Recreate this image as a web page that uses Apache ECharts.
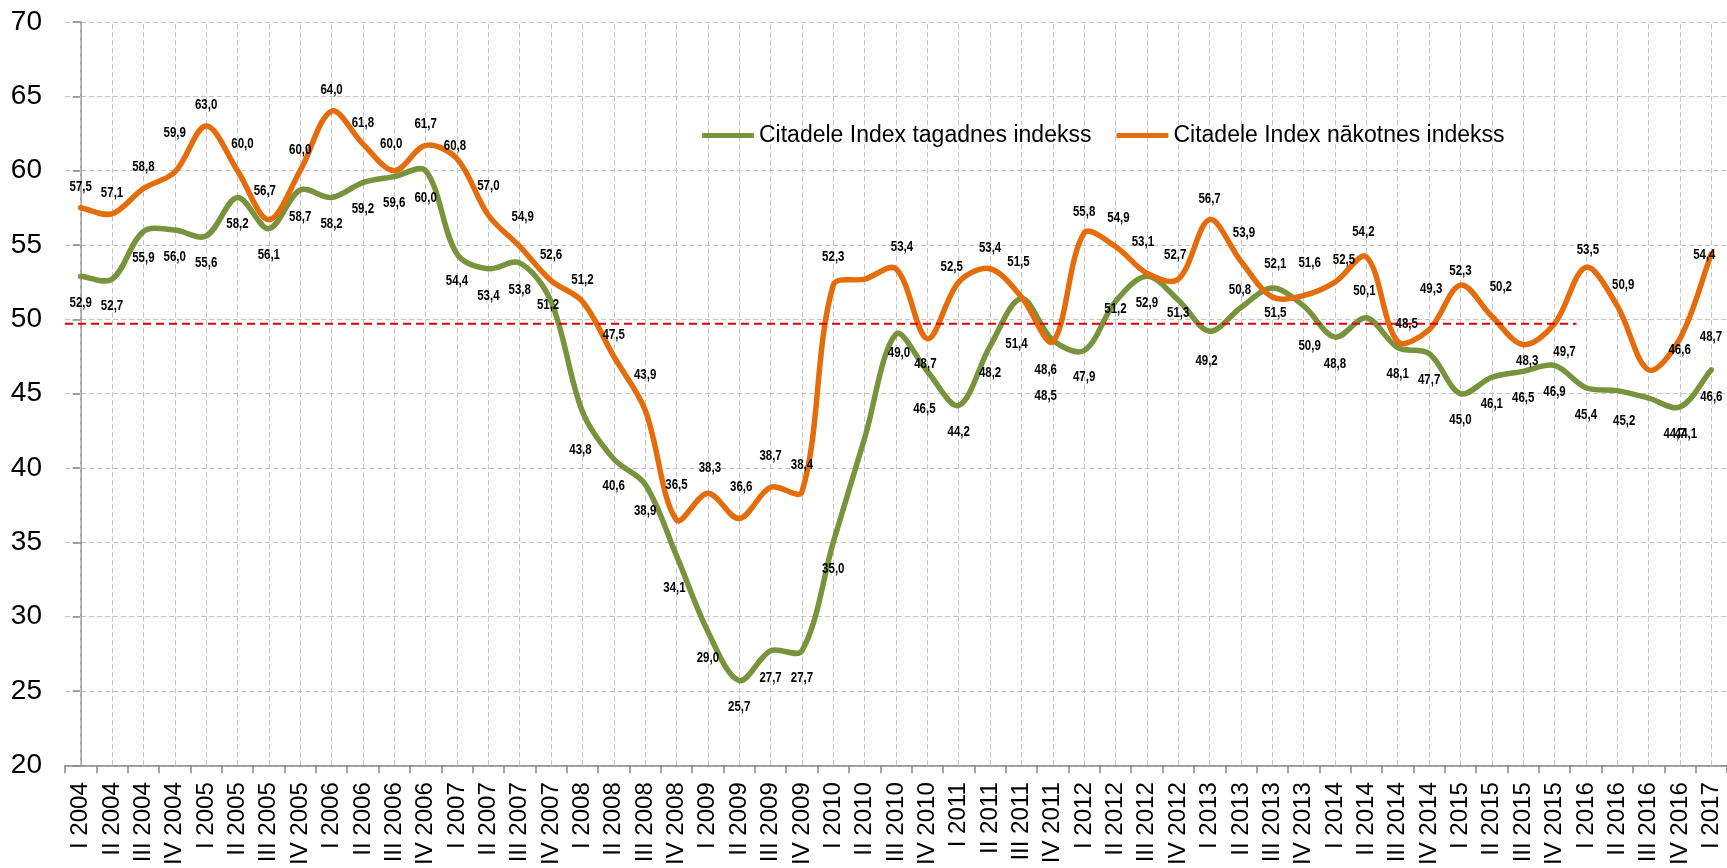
<!DOCTYPE html>
<html>
<head>
<meta charset="utf-8">
<script src="https://cdn.jsdelivr.net/npm/echarts@6/dist/echarts.min.js"></script>
<style>
html,body{margin:0;padding:0;background:#ffffff;}
#chart{width:1727px;height:868px;}
</style>
</head>
<body>
<div id="chart"></div>
<script>
const categories = [
  'I 2004','II 2004','III 2004','IV 2004',
  'I 2005','II 2005','III 2005','IV 2005',
  'I 2006','II 2006','III 2006','IV 2006',
  'I 2007','II 2007','III 2007','IV 2007',
  'I 2008','II 2008','III 2008','IV 2008',
  'I 2009','II 2009','III 2009','IV 2009',
  'I 2010','II 2010','III 2010','IV 2010',
  'I 2011','II 2011','III 2011','IV 2011',
  'I 2012','II 2012','III 2012','IV 2012',
  'I 2013','II 2013','III 2013','IV 2013',
  'I 2014','II 2014','III 2014','IV 2014',
  'I 2015','II 2015','III 2015','IV 2015',
  'I 2016','II 2016','III 2016','IV 2016',
  'I 2017'
];

// Citadele Index tagadnes indekss (current)
const currentIndex = [
  52.9, 52.7, 55.9, 56.0, 55.6, 58.2, 56.1, 58.7, 58.2, 59.2, 59.6, 60.0,
  54.4, 53.4, 53.8, 51.2, 43.8, 40.6, 38.9, 34.1, 29.0, 25.7, 27.7, 27.7,
  35.0, 42.0, 49.0, 46.5, 44.2, 48.2, 51.4, 48.6, 47.9, 51.2, 52.9, 51.3,
  49.2, 50.8, 52.1, 50.9, 48.8, 50.1, 48.1, 47.7, 45.0, 46.1, 46.5, 46.9,
  45.4, 45.2, 44.7, 44.1, 46.6
];

// Citadele Index nākotnes indekss (future)
const futureIndex = [
  57.5, 57.1, 58.8, 59.9, 63.0, 60.0, 56.7, 60.0, 64.0, 61.8, 60.0, 61.7,
  60.8, 57.0, 54.9, 52.6, 51.2, 47.5, 43.9, 36.5, 38.3, 36.6, 38.7, 38.4,
  52.3, 52.7, 53.4, 48.7, 52.5, 53.4, 51.5, 48.5, 55.8, 54.9, 53.1, 52.7,
  56.7, 53.9, 51.5, 51.6, 52.5, 54.2, 48.5, 49.3, 52.3, 50.2, 48.3, 49.7,
  53.5, 50.9, 46.6, 48.7, 54.4
];

const seriesNames = ['Citadele Index tagadnes indekss', 'Citadele Index nākotnes indekss'];
const yTicks = [20, 25, 30, 35, 40, 45, 50, 55, 60, 65, 70];

// neutral level reference line (category-index span, value)
const thresholdValue = 49.7;
const thresholdSpan = [-0.5, 47.7];

// points without data labels
const unlabeled = [25];

// label placement (pixel shifts relative to the point), kept apart from data
const greenDefaultShift = [0, 27];
const orangeDefaultShift = [0, -21];
const greenShift = {15:[-3,4],16:[-2,39],19:[-2,32],26:[3,19],27:[-3,38],30:[-5,46],31:[-7,30],
  33:[0,8],35:[0,13],36:[-3,30],37:[-1,-17],38:[3,-24],39:[6,40],41:[-2,-27],49:[7,30],50:[26,36],51:[6,27]};
const orangeShift = {3:[0,-39],5:[5,-27],6:[-4,-29],10:[-3,-27],12:[-2,-13],13:[0,-29],14:[3,-29],15:[0,-26],
  18:[0,-35],19:[0,-35],20:[2,-25],21:[2,-31],22:[0,-31],23:[0,-27],24:[0,-28],26:[6,-22],27:[-2,26],
  28:[-7,-15],30:[-3,-35],31:[-7,55],33:[3,-28],34:[-4,-31],35:[-3,-24],37:[3,-28],38:[3,16],39:[6,-32],
  40:[9,-22],41:[-3,-25],42:[9,-17],43:[2,-41],44:[0,-14],45:[9,-29],46:[4,17],47:[10,28],48:[2,-17],
  49:[6,-21],50:[31,-20],51:[31,-1],52:[-7,1]};

const GREEN = '#77933c';
const ORANGE = '#e46c0a';
const mainFont = '"Liberation Sans",Arial,sans-serif';

const fmt = v => v.toFixed(1).replace('.', ',');

// smooth curve through the points (chord-weighted Catmull-Rom, like spreadsheet smoothing)
function curveRenderer(values, color) {
  return function (params, api) {
    if (params.dataIndex !== 0) return null;
    const pts = values.map((v, i) => api.coord([i, v]));
    const dist = (a, b) => Math.hypot(b[0] - a[0], b[1] - a[1]);
    let d = 'M' + pts[0][0] + ',' + pts[0][1];
    for (let i = 0; i < pts.length - 1; i++) {
      const p0 = pts[i - 1] || pts[i];
      const p1 = pts[i];
      const p2 = pts[i + 1];
      const p3 = pts[i + 2] || pts[i + 1];
      const d01 = dist(p0, p1), d12 = dist(p1, p2), d23 = dist(p2, p3);
      const k1 = (d01 + d12) > 0 ? (2 * d12 / (d01 + d12)) / 6 : 0;
      const k2 = (d12 + d23) > 0 ? (2 * d12 / (d12 + d23)) / 6 : 0;
      const c1x = p1[0] + (p2[0] - p0[0]) * k1, c1y = p1[1] + (p2[1] - p0[1]) * k1;
      const c2x = p2[0] - (p3[0] - p1[0]) * k2, c2y = p2[1] - (p3[1] - p1[1]) * k2;
      d += ' C' + c1x + ',' + c1y + ' ' + c2x + ',' + c2y + ' ' + p2[0] + ',' + p2[1];
    }
    return {
      type: 'path',
      shape: {pathData: d},
      style: {stroke: color, lineWidth: 5.5, fill: null, lineJoin: 'round', lineCap: 'round'},
      silent: true
    };
  };
}

// data labels: bold, horizontally condensed text placed relative to each point
function labelRenderer(shifts, defShift) {
  return function (params, api) {
    const i = params.dataIndex;
    if (unlabeled.indexOf(i) >= 0) return null;
    const v = api.value(1);
    const pt = api.coord([api.value(0), v]);
    const s = shifts[i] || defShift;
    return {
      type: 'text',
      x: pt[0] + s[0],
      y: pt[1] + s[1],
      scaleX: 0.82,
      silent: true,
      style: {
        text: fmt(v),
        fontFamily: mainFont,
        fontWeight: 'bold',
        fontSize: 14,
        fill: '#000',
        align: 'center',
        verticalAlign: 'middle'
      }
    };
  };
}

const chart = echarts.init(document.getElementById('chart'), null, {renderer: 'canvas'});

chart.setOption({
  animation: false,
  backgroundColor: '#ffffff',
  grid: {left: 65, right: -5, top: 22, bottom: 91, containLabel: false},
  legend: {
    data: seriesNames,
    left: 697,
    top: 119,
    icon: 'roundRect',
    itemWidth: 52,
    itemHeight: 5,
    itemGap: 25,
    textStyle: {fontFamily: mainFont, fontSize: 23, color: '#000'},
    selectedMode: false
  },
  xAxis: [
    {
      type: 'category',
      data: categories,
      boundaryGap: true,
      axisLine: {show: true, lineStyle: {color: '#868686', width: 1.5}},
      axisTick: {show: true, length: 8, interval: 0, lineStyle: {color: '#868686', width: 1.5}},
      axisLabel: {interval: 0, rotate: 90, margin: 17, fontSize: 24, fontFamily: mainFont, color: '#000'},
      splitLine: {show: false}
    },
    {
      type: 'value',
      min: -0.5,
      max: 52.5,
      show: false,
      splitLine: {show: false}
    }
  ],
  yAxis: {
    type: 'value',
    min: yTicks[0],
    max: yTicks[yTicks.length - 1],
    interval: 5,
    axisLine: {show: true, lineStyle: {color: '#868686', width: 1.5}},
    axisTick: {show: true, length: 8, lineStyle: {color: '#868686', width: 1.5}},
    axisLabel: {fontSize: 28, fontFamily: mainFont, color: '#000', margin: 23},
    splitLine: {show: true, lineStyle: {color: '#c4c4c4', type: [5, 3], width: 1}}
  },
  series: [
    {
      name: 'threshold',
      type: 'line',
      xAxisIndex: 1,
      data: [[thresholdSpan[0], thresholdValue], [thresholdSpan[1], thresholdValue]],
      symbol: 'none',
      silent: true,
      z: 6,
      lineStyle: {color: '#e00000', width: 2, type: [8, 5]},
      emphasis: {disabled: true},
      markLine: {
        silent: true,
        symbol: ['none', 'none'],
        z: 1,
        label: {show: false},
        lineStyle: {color: '#c4c4c4', type: [5, 3], width: 1},
        emphasis: {disabled: true},
        data: categories.map((c, i) => ({xAxis: i}))
      }
    },
    {
      name: seriesNames[0],
      type: 'custom',
      data: [0],
      renderItem: curveRenderer(currentIndex, GREEN),
      itemStyle: {color: GREEN},
      silent: true,
      clip: false,
      z: 4
    },
    {
      name: seriesNames[1],
      type: 'custom',
      data: [0],
      renderItem: curveRenderer(futureIndex, ORANGE),
      itemStyle: {color: ORANGE},
      silent: true,
      clip: false,
      z: 5
    },
    {
      name: 'labels-current',
      type: 'custom',
      data: currentIndex.map((v, i) => [i, v]),
      encode: {x: 0, y: 1},
      renderItem: labelRenderer(greenShift, greenDefaultShift),
      silent: true,
      clip: false,
      z: 8
    },
    {
      name: 'labels-future',
      type: 'custom',
      data: futureIndex.map((v, i) => [i, v]),
      encode: {x: 0, y: 1},
      renderItem: labelRenderer(orangeShift, orangeDefaultShift),
      silent: true,
      clip: false,
      z: 9
    }
  ]
});
</script>
</body>
</html>
